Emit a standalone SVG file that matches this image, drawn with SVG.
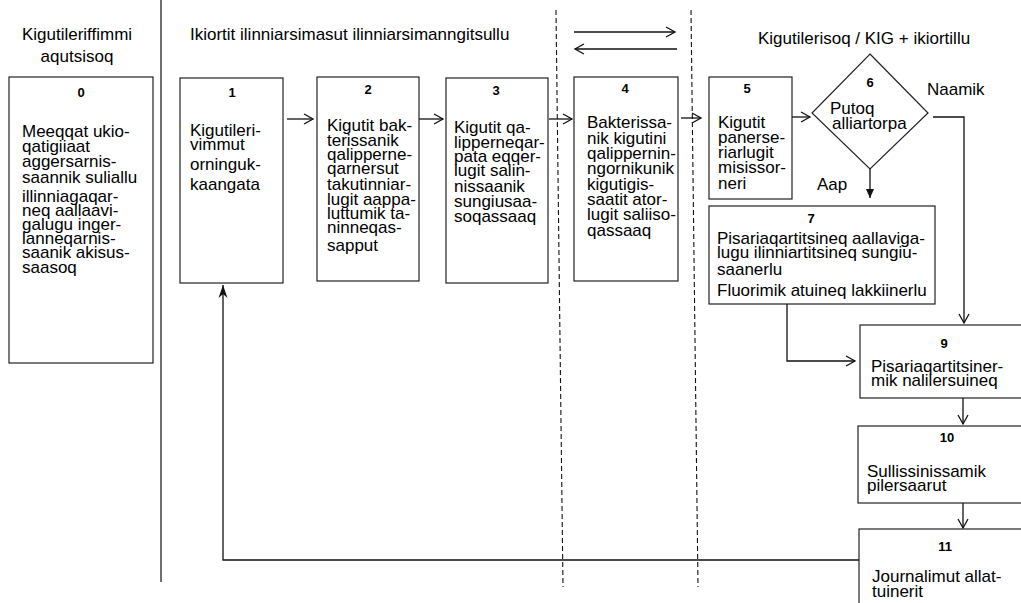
<svg xmlns="http://www.w3.org/2000/svg" width="1021" height="603" viewBox="0 0 1021 603">
<style>
.t{font-family:"Liberation Sans",Arial,sans-serif;font-size:17px;fill:#000}
.n{font-family:"Liberation Sans",Arial,sans-serif;font-size:13px;font-weight:bold;fill:#000;text-anchor:middle}
.b{fill:#fff;stroke:#222;stroke-width:1.2}
.c{fill:none;stroke:#111;stroke-width:1.3}
.d{fill:none;stroke:#111;stroke-width:1.1;stroke-dasharray:5,3}
</style>
<defs>
<marker id="open" markerUnits="userSpaceOnUse" markerWidth="14" markerHeight="14" refX="0" refY="0" orient="auto" overflow="visible">
<path d="M-9,-5 L0,0 L-9,5" fill="none" stroke="#111" stroke-width="1.3"/>
</marker>
<marker id="fill" markerUnits="userSpaceOnUse" markerWidth="14" markerHeight="14" refX="0" refY="0" orient="auto" overflow="visible">
<path d="M-9,-4 L0,0 L-9,4 Z" fill="#111"/>
</marker>
<marker id="barb" markerUnits="userSpaceOnUse" markerWidth="16" markerHeight="16" refX="0" refY="0" orient="auto" overflow="visible">
<path d="M-13,-4.5 L0,0 L-13,4.5 L-9,0 Z" fill="#111"/>
</marker>
</defs>
<rect width="1021" height="603" fill="#fff"/>

<g id="lanes">
<line x1="161" y1="0" x2="161" y2="582" stroke="#111" stroke-width="1.2"/>
<line class="d" x1="556" y1="10" x2="563" y2="587"/>
<line class="d" x1="691" y1="10" x2="698" y2="587"/>
<text class="t" x="77" y="40" text-anchor="middle">Kigutileriffimmi</text>
<text class="t" x="77" y="62" text-anchor="middle">aqutsisoq</text>
<text class="t" x="190" y="40">Ikiortit ilinniarsimasut ilinniarsimanngitsullu</text>
<text class="t" x="758" y="44">Kigutilerisoq / KIG + ikiortillu</text>
</g>

<g id="connectors">
<path class="c" d="M574,32 L675,32" marker-end="url(#open)"/>
<path class="c" d="M677,49 L575,49" marker-end="url(#open)"/>
<path class="c" d="M287,119 L313,119" marker-end="url(#open)"/>
<path class="c" d="M419,119 L443,119" marker-end="url(#open)"/>
<path class="c" d="M549,119 L572,119" marker-end="url(#open)"/>
<path class="c" d="M681,118 L701,118" marker-end="url(#open)"/>
<path class="c" d="M787,117 L810,117" marker-end="url(#open)"/>
<path class="c" d="M933,117 L964,117 L964,323" marker-end="url(#open)"/>
<path class="c" d="M870,169 L870,198" marker-end="url(#fill)"/>
<path class="c" d="M787,304 L787,361 L855,361" marker-end="url(#open)"/>
<path class="c" d="M963,398 L963,424" marker-end="url(#open)"/>
<path class="c" d="M963,503 L963,528" marker-end="url(#open)"/>
<path class="c" d="M859,560 L223,560 L223,285" marker-end="url(#barb)"/>
<path class="c" d="M935,496 L941,502 L934,501" stroke-width="1"/>
<text class="t" x="927" y="95">Naamik</text>
<text class="t" x="817" y="190">Aap</text>
</g>

<g id="node0">
<rect class="b" x="9" y="77" width="144" height="286"/>
<text class="n" x="81" y="97">0</text>
<text class="t" x="22" y="137">Meeqqat ukio-</text>
<text class="t" x="22" y="152">qatigiiaat</text>
<text class="t" x="22" y="167">aggersarnis-</text>
<text class="t" x="22" y="183">saannik suliallu</text>
<text class="t" x="22" y="202">illinniagaqar-</text>
<text class="t" x="22" y="216">neq aallaavi-</text>
<text class="t" x="22" y="230">galugu inger-</text>
<text class="t" x="22" y="244">lanneqarnis-</text>
<text class="t" x="22" y="258">saanik akisus-</text>
<text class="t" x="22" y="273">saasoq</text>
</g>

<g id="node1">
<rect class="b" x="180" y="78" width="103" height="205"/>
<text class="n" x="232" y="97">1</text>
<text class="t" x="190" y="136">Kigutileri-</text>
<text class="t" x="190" y="150">vimmut</text>
<text class="t" x="190" y="170">orninguk-</text>
<text class="t" x="190" y="190">kaangata</text>
</g>

<g id="node2">
<rect class="b" x="317" y="77" width="102" height="204"/>
<text class="n" x="368" y="94">2</text>
<text class="t" x="327" y="131">Kigutit bak-</text>
<text class="t" x="327" y="146">terissanik</text>
<text class="t" x="327" y="160">qalipperne-</text>
<text class="t" x="327" y="174">qarnersut</text>
<text class="t" x="327" y="190">takutinniar-</text>
<text class="t" x="327" y="205">lugit  aappa-</text>
<text class="t" x="327" y="219">luttumik ta-</text>
<text class="t" x="327" y="233">ninneqas-</text>
<text class="t" x="327" y="251">sapput</text>
</g>

<g id="node3">
<rect class="b" x="446" y="78" width="102" height="205"/>
<text class="n" x="496" y="95">3</text>
<text class="t" x="454" y="133">Kigutit qa-</text>
<text class="t" x="454" y="148">lipperneqar-</text>
<text class="t" x="454" y="162">pata  eqqer-</text>
<text class="t" x="454" y="176">lugit salin-</text>
<text class="t" x="454" y="192">nissaanik</text>
<text class="t" x="454" y="207">sungiusaa-</text>
<text class="t" x="454" y="222">soqassaaq</text>
</g>

<g id="node4">
<rect class="b" x="574" y="77" width="104" height="204"/>
<text class="n" x="625" y="93">4</text>
<text class="t" x="587" y="128">Bakterissa-</text>
<text class="t" x="587" y="144">nik kigutini</text>
<text class="t" x="587" y="159">qalippernin-</text>
<text class="t" x="587" y="174">ngornikunik</text>
<text class="t" x="587" y="190">kigutigis-</text>
<text class="t" x="587" y="205">saatit ator-</text>
<text class="t" x="587" y="220">lugit saliiso-</text>
<text class="t" x="587" y="236">qassaaq</text>
</g>

<g id="node5">
<rect class="b" x="709" y="77" width="83" height="122"/>
<text class="n" x="747" y="93">5</text>
<text class="t" x="718" y="128">Kigutit</text>
<text class="t" x="718" y="143">panerse-</text>
<text class="t" x="718" y="158">riarlugit</text>
<text class="t" x="718" y="173">misissor-</text>
<text class="t" x="718" y="189">neri</text>
</g>

<g id="node6">
<polygon class="b" points="870,54 928,113 870,169 812,113"/>
<text class="n" x="870" y="87">6</text>
<text class="t" x="830" y="114">Putoq</text>
<text class="t" x="832" y="129">alliartorpa</text>
</g>

<g id="node7">
<rect class="b" x="709" y="206" width="226" height="98"/>
<text class="n" x="811" y="223">7</text>
<text class="t" x="717" y="244">Pisariaqartitsineq aallaviga-</text>
<text class="t" x="717" y="258">lugu ilinniartitsineq sungiu-</text>
<text class="t" x="717" y="275">saanerlu</text>
<text class="t" x="717" y="296">Fluorimik atuineq lakkiinerlu</text>
</g>

<g id="node9">
<rect class="b" x="860" y="325" width="170" height="73"/>
<text class="n" x="944" y="348">9</text>
<text class="t" x="871" y="372">Pisariaqartitsiner-</text>
<text class="t" x="871" y="386">mik nalilersuineq</text>
</g>

<g id="node10">
<rect class="b" x="858" y="426" width="172" height="77"/>
<text class="n" x="947" y="442">10</text>
<text class="t" x="867" y="477">Sullissinissamik</text>
<text class="t" x="867" y="491">pilersaarut</text>
</g>

<g id="node11">
<rect class="b" x="859" y="529" width="172" height="90"/>
<text class="n" x="945" y="551">11</text>
<text class="t" x="872" y="582">Journalimut allat-</text>
<text class="t" x="872" y="597">tuinerit</text>
</g>
</svg>
